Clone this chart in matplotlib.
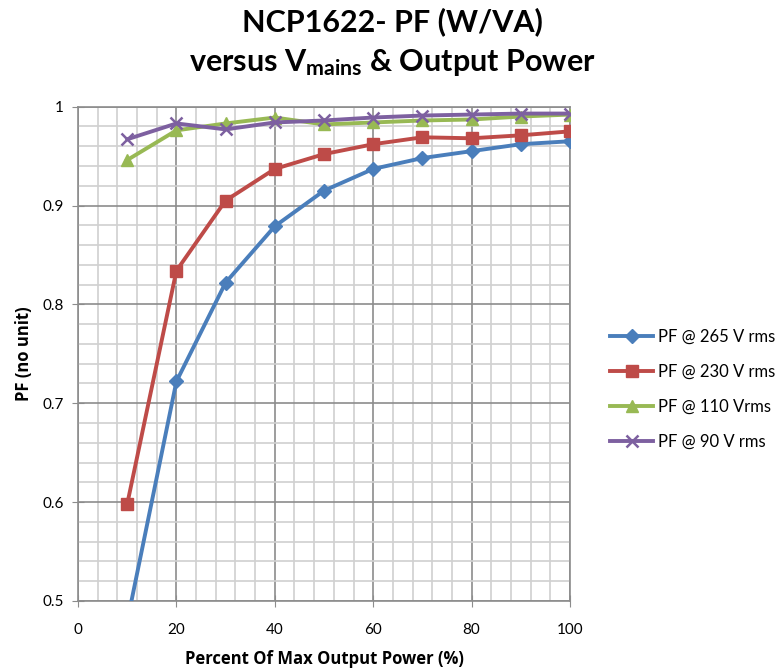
import matplotlib
matplotlib.use("Agg")
import matplotlib.pyplot as plt
from matplotlib.ticker import MultipleLocator, FuncFormatter

# --- Daten ---
power_pct = [10, 20, 30, 40, 50, 60, 70, 80, 90, 100]
pf_265 = [0.479, 0.722, 0.822, 0.879, 0.915, 0.937, 0.948, 0.955, 0.962, 0.965]
pf_230 = [0.598, 0.834, 0.905, 0.937, 0.952, 0.962, 0.969, 0.968, 0.971, 0.975]
pf_110 = [0.946, 0.976, 0.983, 0.989, 0.982, 0.984, 0.986, 0.987, 0.990, 0.992]
pf_90 = [0.967, 0.983, 0.977, 0.984, 0.986, 0.989, 0.991, 0.992, 0.993, 0.993]
labels = ["PF @ 265 V rms", "PF @ 230 V rms", "PF @ 110 Vrms", "PF @ 90 V rms"]

FONT = "Lato"
plt.rcParams["font.family"] = [FONT, "DejaVu Sans"]
plt.rcParams["mathtext.fontset"] = "custom"
plt.rcParams["mathtext.rm"] = FONT
plt.rcParams["mathtext.bf"] = FONT + ":bold"

fig = plt.figure(figsize=(7.84, 6.72), dpi=100)
ax = fig.add_axes([0.0995, 0.1057, 0.6275, 0.7356])

series = [
    (pf_265, "#4a7ebb", "D", 7),
    (pf_230, "#be4b48", "s", 8),
    (pf_110, "#98b954", "^", 8),
    (pf_90, "#7d60a0", "x", 9),
]
for (vals, col, mk, ms), lab in zip(series, labels):
    ax.plot(power_pct, vals, color=col, lw=2.8, marker=mk, ms=ms,
            mew=1.8 if mk == "x" else 1, label=lab, zorder=3)

ax.set_xlim(0, 100)
ax.set_ylim(0.5, 1.0)
ax.xaxis.set_major_locator(MultipleLocator(20))
ax.xaxis.set_minor_locator(MultipleLocator(4))
ax.yaxis.set_major_locator(MultipleLocator(0.1))
ax.yaxis.set_minor_locator(MultipleLocator(0.02))
ax.yaxis.set_major_formatter(FuncFormatter(lambda v, p: f"{v:g}"))

# Gitter wie Excel
ax.grid(which="minor", color="#d0d0d0", lw=1.2)
ax.grid(which="major", color="#8c8c8c", lw=1.2)
ax.set_axisbelow(True)
for s in ax.spines.values():
    s.set_color("#8c8c8c")
    s.set_linewidth(1.2)
ax.tick_params(which="major", direction="inout", length=8, color="#8c8c8c", labelsize=11)
ax.tick_params(axis="x", pad=12)
ax.tick_params(axis="y", pad=6)
ax.tick_params(which="minor", length=0)

lab_font = ["Open Sans", "DejaVu Sans"]
ax.set_xlabel("Percent Of Max Output Power (%)", fontsize=12, fontweight="bold",
              family=lab_font, labelpad=9)
ax.set_ylabel("PF (no unit)", fontsize=12, fontweight="bold", family=lab_font,
              labelpad=7)

fig.text(0.5, 0.967, "NCP1622- PF (W/VA)", ha="center", va="center",
         fontsize=22, fontweight="bold")
fig.text(0.5, 0.907, r"versus $\mathbf{V_{mains}}$ & Output Power", ha="center",
         va="center", fontsize=22, fontweight="bold")

fig.legend(loc="upper left", bbox_to_anchor=(0.778, 0.511), frameon=False,
           fontsize=12, labelspacing=1.15, handlelength=2.6, handletextpad=0.3,
           borderpad=0, borderaxespad=0)

fig.savefig("out.png", dpi=100)
